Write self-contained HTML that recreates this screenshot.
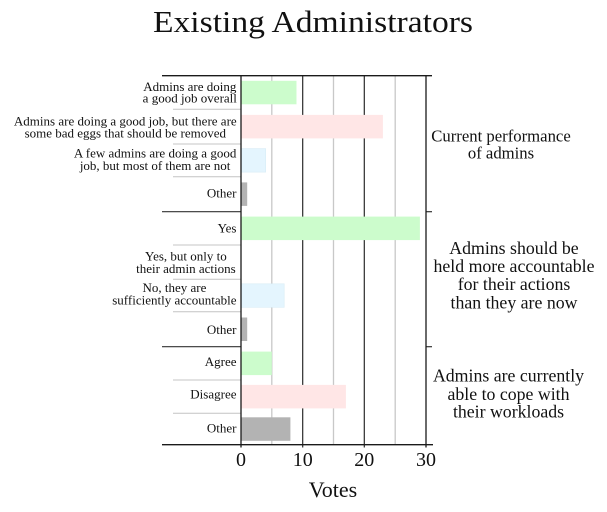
<!DOCTYPE html>
<html><head><meta charset="utf-8"><style>
html,body{margin:0;padding:0;background:#fff;}
svg{display:block;}
text{font-family:"Liberation Serif","DejaVu Serif",serif;fill:#111;}
</style></head><body>
<svg width="607" height="512" viewBox="0 0 607 512" xmlns="http://www.w3.org/2000/svg">
<rect width="607" height="512" fill="#fff"/>
<text x="313" y="32" font-size="31" text-anchor="middle" textLength="320" lengthAdjust="spacingAndGlyphs">Existing Administrators</text>

<!-- minor gridlines -->
<g stroke="#c8c8c8" stroke-width="1.3">
<line x1="271.8" y1="75.7" x2="271.8" y2="444.7"/>
<line x1="333.5" y1="75.7" x2="333.5" y2="444.7"/>
<line x1="395.2" y1="75.7" x2="395.2" y2="444.7"/>
</g>
<!-- major gridlines -->
<g stroke="#2a2a2a" stroke-width="1.2">
<line x1="302.7" y1="75.7" x2="302.7" y2="447.5"/>
<line x1="364.3" y1="75.7" x2="364.3" y2="447.5"/>
</g>

<!-- item separators -->
<g stroke="#c4c4c4" stroke-width="1">
<line x1="173" y1="109.3" x2="241" y2="109.3"/>
<line x1="173" y1="144" x2="241" y2="144"/>
<line x1="173" y1="176.7" x2="241" y2="176.7"/>
<line x1="173" y1="245" x2="241" y2="245"/>
<line x1="173" y1="279.3" x2="241" y2="279.3"/>
<line x1="173" y1="311.7" x2="241" y2="311.7"/>
<line x1="173" y1="380" x2="241" y2="380"/>
<line x1="173" y1="413.3" x2="241" y2="413.3"/>
</g>
<!-- group separators -->
<g stroke="#333" stroke-width="1.2">
<line x1="162" y1="211.7" x2="241" y2="211.7"/>
<line x1="162" y1="346.7" x2="241" y2="346.7"/>
<line x1="426" y1="211.7" x2="432" y2="211.7"/>
<line x1="426" y1="346.7" x2="432" y2="346.7"/>
</g>

<!-- bars -->
<rect x="241" y="80.8" width="55.5" height="23.5" fill="#ccfccc"/>
<rect x="241" y="114.9" width="141.9" height="23.5" fill="#ffe6e6"/>
<rect x="241" y="148.6" width="24.7" height="23.5" fill="#e4f5fe" stroke="#d8ecf6" stroke-width="0.6"/>
<rect x="241" y="182.4" width="6.2" height="23.5" fill="#b3b3b3"/>
<rect x="241" y="216.6" width="178.9" height="23.5" fill="#ccfccc"/>
<rect x="241" y="283.8" width="43.2" height="23.5" fill="#e4f5fe" stroke="#d8ecf6" stroke-width="0.6"/>
<rect x="241" y="317.5" width="6.2" height="23.5" fill="#b3b3b3"/>
<rect x="241" y="351.6" width="30.8" height="23.5" fill="#ccfccc"/>
<rect x="241" y="384.9" width="104.9" height="23.5" fill="#ffe6e6"/>
<rect x="241" y="417.3" width="49.4" height="23.5" fill="#b3b3b3"/>

<!-- axes -->
<g stroke="#1a1a1a" stroke-width="1.3">
<line x1="162" y1="75.7" x2="432" y2="75.7"/>
<line x1="162" y1="444.7" x2="433" y2="444.7"/>
<line x1="241" y1="75.7" x2="241" y2="447.5"/>
<line x1="426" y1="75.7" x2="426" y2="447.5"/>
</g>

<!-- tick labels -->
<g font-size="20" text-anchor="middle">
<text x="241" y="466">0</text>
<text x="302.7" y="466">10</text>
<text x="364.3" y="466">20</text>
<text x="426" y="466">30</text>
</g>
<text x="333" y="497" font-size="22" text-anchor="middle">Votes</text>

<!-- row labels (multi-line blocks centered) -->
<g font-size="13" text-anchor="middle">
<text x="189.8" y="90.8">Admins are doing</text>
<text x="189.8" y="102.5">a good job overall</text>
<text x="125.3" y="125.5">Admins are doing a good job, but there are</text>
<text x="125.3" y="137.3">some bad eggs that should be removed</text>
<text x="155.1" y="157.6">A few admins are doing a good</text>
<text x="155.1" y="169.8">job, but most of them are not</text>
<text x="185.9" y="260.7">Yes, but only to</text>
<text x="185.9" y="273.2">their admin actions</text>
<text x="174.4" y="291.8">No, they are</text>
<text x="174.4" y="304.3">sufficiently accountable</text>
</g>
<g font-size="13" text-anchor="end">
<text x="236.5" y="197.3">Other</text>
<text x="236.5" y="232.6">Yes</text>
<text x="236.5" y="333.8">Other</text>
<text x="236.5" y="366">Agree</text>
<text x="236.5" y="398.3">Disagree</text>
<text x="236.5" y="432.5">Other</text>
</g>

<!-- group labels -->
<g text-anchor="middle">
<text x="501" y="141.7" font-size="16.7">Current performance</text>
<text x="501" y="158.3" font-size="16.7">of admins</text>
<text x="514" y="254" font-size="17.8">Admins should be</text>
<text x="514" y="272.2" font-size="17.8">held more accountable</text>
<text x="514" y="290.2" font-size="17.8">for their actions</text>
<text x="514" y="308.3" font-size="17.8">than they are now</text>
<text x="508.5" y="381.7" font-size="17.8">Admins are currently</text>
<text x="508.5" y="399.8" font-size="17.8">able to cope with</text>
<text x="508.5" y="417.5" font-size="17.8">their workloads</text>
</g>
</svg>
</body></html>
